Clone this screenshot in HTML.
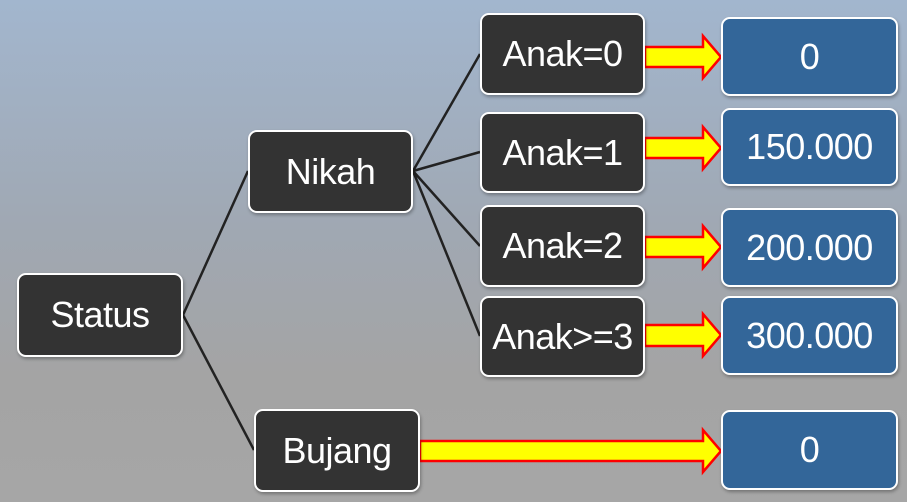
<!DOCTYPE html>
<html><head><style>
body{margin:0;width:907px;height:502px;overflow:hidden;background:linear-gradient(#a2b6ce 0%,#a0a8b3 45%,#a4a4a4 75%,#a6a6a6 100%);font-family:"Liberation Sans",sans-serif;position:relative}
.b{position:absolute;box-sizing:border-box;border:2.5px solid #fff;border-radius:9px;background:#333;color:#fff;font-size:36px;letter-spacing:-0.5px;display:flex;align-items:center;justify-content:center;box-shadow:1px 2px 3px rgba(0,0,0,.3);white-space:nowrap}
.v{background:#336699}
svg{position:absolute;left:0;top:0}
</style></head><body>
<svg width="907" height="502">
<g stroke="#222" stroke-width="2.5" fill="none">
<line x1="183" y1="315" x2="248" y2="171"/>
<line x1="183" y1="315" x2="254" y2="450"/>
<line x1="413" y1="171" x2="480" y2="54"/>
<line x1="413" y1="171" x2="480" y2="152"/>
<line x1="413" y1="171" x2="480" y2="246"/>
<line x1="413" y1="171" x2="480" y2="336"/>
</g>
<g fill="#ffff00" stroke="#ff0000" stroke-width="2.5" stroke-linejoin="miter">
<polygon points="645,47 703,47 703,36 721,57 703,78 703,67 645,67"/>
<polygon points="645,138 703,138 703,127 721,148 703,169 703,158 645,158"/>
<polygon points="645,237 703,237 703,226 721,247 703,268 703,257 645,257"/>
<polygon points="645,325 703,325 703,314 721,335 703,356 703,346 645,346"/>
<polygon points="420,441 703,441 703,430 721,451 703,472 703,461 420,461"/>
</g>
</svg>
<div class="b" style="left:17px;top:273px;width:166px;height:84px">Status</div>
<div class="b" style="left:248px;top:130px;width:165px;height:83px">Nikah</div>
<div class="b" style="left:254px;top:409px;width:166px;height:83px">Bujang</div>
<div class="b" style="left:480px;top:13px;width:165px;height:82px">Anak=0</div>
<div class="b" style="left:480px;top:112px;width:165px;height:81px">Anak=1</div>
<div class="b" style="left:480px;top:205px;width:165px;height:82px">Anak=2</div>
<div class="b" style="left:480px;top:296px;width:165px;height:81px">Anak&gt;=3</div>
<div class="b v" style="left:721px;top:17px;width:177px;height:79px">0</div>
<div class="b v" style="left:721px;top:108px;width:177px;height:78px">150.000</div>
<div class="b v" style="left:721px;top:208px;width:177px;height:79px">200.000</div>
<div class="b v" style="left:721px;top:296px;width:177px;height:79px">300.000</div>
<div class="b v" style="left:721px;top:410px;width:177px;height:80px">0</div>
</body></html>
